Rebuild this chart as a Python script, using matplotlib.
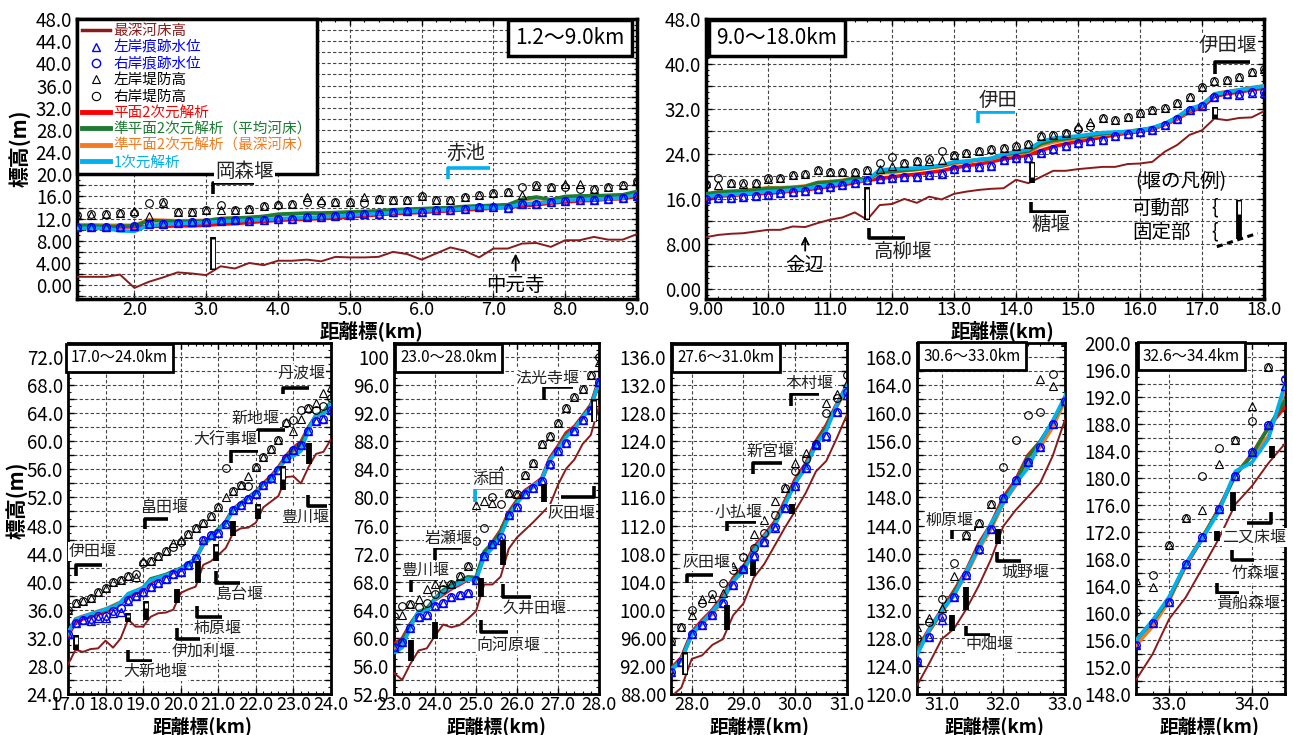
import numpy as np
import matplotlib
matplotlib.use("Agg")
import matplotlib.pyplot as plt
from matplotlib.lines import Line2D
from matplotlib.ticker import MultipleLocator, FuncFormatter

plt.rcParams['font.family'] = ['Noto Sans CJK JP', 'DejaVu Sans']
plt.rcParams['axes.unicode_minus'] = False

nan = np.nan

# 距離標 0.2km 間隔 (1.2km ～ 34.4km)
km = np.round(np.arange(12, 345, 2) / 10.0, 1)

# 最深河床高
bed = [
    1.5, 1.5, 1.5, 1.9, -0.5, 0.6, 1.4, 2.3, 2.1, 1.8,
    3.4, 3.0, 4.0, 3.6, 4.4, 4.4, 4.6, 4.3, 5.1, 5.0,
    5.0, 5.1, 6.0, 5.6, 4.6, 5.7, 6.8, 6.2, 5.0, 6.6,
    6.6, 7.5, 7.6, 6.9, 8.1, 8.1, 8.7, 8.2, 8.2, 9.2,
    9.6, 9.8, 9.9, 10.2, 10.5, 10.5, 11.1, 11.0, 11.7, 12.3,
    12.7, 13.6, 12.3, 14.9, 15.1, 16.0, 15.3, 16.4, 15.9, 16.9,
    17.3, 17.6, 17.8, 17.9, 19.4, 18.8, 19.9, 21.0, 21.0, 21.3,
    21.5, 21.7, 21.7, 22.2, 22.3, 22.6, 24.4, 25.6, 27.4, 28.2,
    30.3, 30.0, 30.4, 30.5, 31.6, 30.6, 31.9, 34.6, 33.6, 33.6,
    35.0, 35.5, 35.6, 36.0, 38.4, 38.9, 39.3, 42.4, 42.9, 43.8,
    44.8, 47.0, 47.6, 47.7, 48.4, 50.6, 51.4, 52.2, 54.9, 55.0,
    54.0, 56.3, 58.2, 58.5, 60.3, 61.9, 61.5, 61.8, 62.7, 63.8,
    67.6, 67.6, 68.7, 72.7, 74.3, 75.4, 76.5, 77.7, 78.9, 81.8,
    84.1, 85.4, 87.6, 88.9, 93.0, 93.5, 95.0, 95.8, 99.2, 100.9,
    104.6, 106.5, 109.1, 111.7, 114.1, 116.6, 119.7, 121.2, 124.4, 127.8,
    129.3, 132.1, 135.4, 139.2, 143.9, 146.2, 148.1, 150.1, 153.9, 159.1,
    162.3, 166.6, 171.0, 176.1, 178.8, 182.2, 185.1,
]

# 右岸痕跡水位
trace_r = [
    10.4, 10.4, 10.5, 10.5, 10.6, 11.0, 11.1, 11.2, 11.3, 11.3,
    11.6, 11.7, 11.5, 11.7, 12.0, 12.0, 12.2, 12.3, 12.4, 12.6,
    12.9, 12.9, 13.2, 13.4, 13.2, 13.5, 13.6, 13.8, 14.1, 14.1,
    14.0, 14.6, 14.6, 15.0, 15.1, 15.3, 15.4, 15.6, 15.7, 16.0,
    16.2, 16.2, 16.3, 16.5, 16.7, 17.0, 17.3, 17.4, 17.7, 18.1,
    18.4, 18.8, 19.4, 19.6, 19.8, 19.9, 19.9, 20.2, 20.5, 21.3,
    21.7, 21.7, 21.8, 23.0, 23.2, 23.2, 24.1, 24.8, 25.4, 25.9,
    26.3, 26.5, 27.2, 27.6, 27.9, 28.3, 29.1, 30.3, 31.8, 32.5,
    34.1, 34.6, 34.7, 35.1, 35.1, 35.8, 36.3, 37.4, 37.9, 38.6,
    39.2, 39.8, 40.4, 41.1, 41.4, 42.4, 43.4, 45.9, 46.7, 47.0,
    48.2, 50.2, 50.9, 51.8, 52.5, 53.8, 54.7, 55.9, 57.6, 58.7,
    59.4, 61.4, 62.9, 63.2, 64.5, 65.0, 65.8, 66.1, 66.4, 68.2,
    71.7, 73.4, 74.3, 77.5, 78.7, 80.5, 81.3, 82.3, 84.7, 86.6,
    87.8, 89.4, 91.1, 92.5, 96.5, 97.8, 99.3, 101.0, 103.5, 105.8,
    107.6, 109.7, 111.8, 114.5, 117.6, 120.2, 123.5, 124.7, 128.1, 131.0,
    133.8, 136.9, 140.6, 143.5, 147.9, 150.5, 153.1, 155.2, 158.5, 161.7,
    167.3, 171.2, 175.4, 180.3, 183.8, 187.8, 194.7,
]

# 左岸痕跡水位
trace_l = [
    10.4, 10.4, 10.5, 10.5, 10.6, 11.0, 11.1, 11.2, 11.3, 11.3,
    11.6, 11.7, 11.5, 11.7, 12.0, 12.0, 12.2, 12.3, 12.4, 12.6,
    12.9, 12.9, 13.2, 13.4, 13.2, 13.5, 13.6, 13.8, 14.1, 14.1,
    14.0, 14.6, 14.6, 15.0, 15.1, 15.3, 15.4, 15.6, 15.7, 16.0,
    16.2, 16.2, 16.3, 16.5, 16.7, 17.0, 17.3, 17.4, 17.7, 18.1,
    18.4, 18.8, 19.4, 19.6, 19.8, 19.9, 19.9, 20.2, 20.5, 21.3,
    21.7, 21.7, 21.8, 23.0, 23.2, 23.2, 24.1, 24.8, 25.4, 25.9,
    26.3, 26.5, 27.2, 27.6, 27.9, 28.3, 29.1, 30.3, 31.8, 32.5,
    34.1, 34.6, 34.4, 34.8, 34.8, 35.6, 35.7, 37.2, 37.9, 38.6,
    39.2, 39.8, 40.4, 41.1, 41.4, 42.4, 43.4, 45.9, 46.7, 47.0,
    48.2, 50.2, 50.9, 51.8, 52.5, 53.8, 54.7, 55.9, 57.6, 58.7,
    59.4, 61.4, 62.9, 63.2, 64.5, 65.0, 65.8, 66.1, 66.4, 68.2,
    71.7, 73.4, 74.0, 77.5, 78.7, 80.5, 81.3, 82.3, 84.7, 86.6,
    87.8, 89.4, 91.1, 92.5, 96.5, 97.8, 99.3, 101.0, 103.5, 105.8,
    107.6, 109.7, 111.7, 114.5, 117.6, 120.2, 123.5, 124.7, 128.1, 130.6,
    133.8, 136.9, 140.6, 143.5, 147.9, 150.5, 153.1, 155.2, 158.5, 161.7,
    167.3, 171.2, 175.4, 180.3, 183.8, 187.8, 193.7,
]

# 右岸堤防高
levee_r = [
    12.6, 12.9, 12.8, 13.1, 13.1, 14.8, 15.0, 13.2, 13.2, 13.5,
    14.4, 13.5, 13.7, 14.2, 14.4, 14.6, 15.0, 14.8, 15.0, 15.0,
    14.8, 15.6, 15.4, 15.4, 16.0, 15.4, 15.4, 15.9, 16.2, 16.6,
    16.8, 17.7, 18.0, 17.7, 17.7, 17.4, 17.4, 17.7, 18.0, 18.7,
    19.8, 18.9, 18.9, 18.9, 19.8, 19.8, 20.2, 20.4, 21.1, 20.7,
    20.8, 20.8, 21.1, 22.3, 23.5, 22.4, 22.7, 23.1, 24.6, 23.8,
    24.1, 24.6, 24.8, 25.1, 25.5, 25.7, 27.2, 27.4, 27.8, 28.5,
    29.0, 30.4, 30.1, 30.6, 31.2, 31.8, 32.2, 33.1, 34.2, 35.9,
    36.9, 37.2, 37.7, 38.6, 39.1, 40.0, 40.3, 40.8, 41.1, 42.7,
    43.0, 43.6, 44.3, 45.0, 45.6, 46.8, 47.7, 48.4, 49.4, 50.7,
    56.2, 52.9, 53.8, 53.6, 56.3, 57.8, 58.9, 60.2, 62.6, 63.1,
    64.5, 64.8, 64.4, 65.0, 66.2, 67.0, 67.6, 68.8, 70.3, 73.8,
    75.6, 80.1, 79.0, 80.6, 80.5, 83.2, 84.9, 87.6, 88.8, 90.6,
    92.7, 94.3, 95.5, 97.5, 100.0, 100.9, 102.3, 103.8, 105.6, 107.5,
    108.8, 110.9, 113.5, 117.4, 119.7, 121.5, 123.6, 128.0, 130.2, 133.5,
    138.7, 142.6, 144.4, 147.1, 152.3, 156.2, 159.8, 160.1, 165.6, 170.1,
    174.1, 180.3, 184.5, 185.7, 188.5, 196.4, nan,
]

# 左岸堤防高
levee_l = [
    12.6, 12.6, 12.8, 13.1, 13.3, 12.5, 14.9, 13.2, 13.2, 13.5,
    13.5, 13.5, 13.7, 14.2, 14.6, 14.6, 15.9, 15.3, 15.0, 15.0,
    15.9, 15.6, 15.4, 15.4, 16.0, 15.4, 15.4, 15.9, 16.2, 16.6,
    16.8, 16.2, 17.9, 17.7, 18.2, 18.3, 17.4, 17.7, 18.0, 18.9,
    18.5, 18.9, 18.6, 18.9, 19.6, 19.8, 20.2, 20.4, 21.1, 20.7,
    20.8, 20.8, 21.1, 21.4, 21.9, 22.4, 22.7, 22.7, 23.0, 23.8,
    24.1, 24.6, 24.8, 25.1, 25.5, 25.7, 27.2, 27.4, 27.8, 28.9,
    29.6, 30.4, 30.1, 30.6, 31.2, 31.8, 32.2, 33.1, 34.2, 35.9,
    36.9, 37.2, 37.7, 38.6, 39.1, 40.0, 40.3, 40.8, 40.6, 42.9,
    43.0, 43.6, 44.3, 45.5, 46.0, 46.8, 47.7, 48.4, 49.4, 50.7,
    52.0, 52.9, 53.8, 55.1, 56.3, 57.8, 58.9, 60.2, 62.8, 61.5,
    63.2, 64.8, 65.5, 66.9, 67.7, 68.0, 67.6, 68.8, 70.3, 78.9,
    79.5, 79.2, 83.9, 80.6, 80.5, 83.2, 84.9, 87.6, 88.8, 90.6,
    92.7, 94.3, 95.5, 97.5, 99.3, 101.5, 101.7, 102.4, 106.2, 106.0,
    110.8, 112.8, 115.5, 117.4, 120.9, 122.4, 123.6, 129.5, 130.8, 132.3,
    136.8, 142.6, 144.4, 147.1, nan, nan, nan, 164.9, 163.9, 170.1,
    174.1, 175.3, 182.1, 185.7, 190.6, 196.4, nan,
]

# 平面2次元解析
plane2d = [
    10.4, 10.4, 10.5, 10.5, 10.5, 10.6, 10.6, 10.7, 10.7, 10.8,
    11.0, 11.1, 11.3, 11.5, 11.7, 11.8, 11.9, 12.0, 12.1, 12.3,
    12.5, 12.7, 12.9, 13.0, 13.1, 13.3, 13.4, 13.6, 13.7, 13.9,
    14.0, 14.3, 14.5, 14.8, 15.0, 15.2, 15.3, 15.5, 15.6, 16.0,
    16.5, 16.6, 16.8, 16.9, 17.0, 17.2, 17.4, 17.6, 17.9, 18.2,
    18.5, 18.9, 19.3, 19.6, 19.9, 20.2, 20.4, 20.7, 21.0, 21.5,
    21.9, 22.2, 22.6, 23.1, 23.4, 23.8, 24.6, 25.3, 25.8, 26.2,
    26.6, 27.0, 27.4, 27.7, 28.0, 28.4, 29.2, 30.2, 31.5, 32.3,
    34.2, 34.7, 35.0, 35.4, 35.7, 36.2, 36.8, 37.8, 38.4, 38.9,
    39.9, 40.4, 40.8, 41.3, 41.7, 42.5, 43.3, 45.5, 46.5, 47.3,
    48.6, 50.4, 51.2, 52.0, 52.8, 54.0, 55.0, 56.3, 57.9, 59.1,
    59.9, 62.0, 63.6, 64.0, 65.4, 66.2, 67.0, 67.6, 68.3, 68.3,
    71.8, 73.6, 75.3, 77.9, 79.6, 81.0, 81.8, 82.7, 85.6, 87.3,
    89.2, 90.1, 91.6, 93.2, 96.8, 98.5, 100.0, 101.9, 104.5, 106.1,
    108.9, 110.6, 112.5, 115.5, 118.6, 120.8, 124.0, 126.3, 129.3, 132.0,
    134.7, 137.6, 141.4, 144.2, 148.0, 150.5, 154.0, 156.0, 158.7, 162.0,
    167.0, 171.0, 175.5, 180.5, 183.5, 187.5, 190.6,
]

# 準平面2次元解析(平均河床)
quasi_avg = [
    10.7, 10.7, 10.6, 10.6, 10.7, 11.6, 11.6, 11.5, 11.5, 11.6,
    12.0, 12.1, 12.2, 12.4, 12.8, 12.9, 13.0, 13.0, 13.1, 13.2,
    13.3, 13.4, 13.6, 13.7, 13.8, 13.9, 14.0, 14.2, 14.3, 14.4,
    14.5, 15.5, 15.9, 15.4, 16.0, 16.1, 16.1, 16.2, 16.3, 16.9,
    17.2, 17.3, 17.4, 17.6, 17.9, 17.9, 18.0, 18.2, 18.9, 19.0,
    19.2, 19.7, 19.4, 20.8, 20.9, 21.1, 21.3, 21.6, 21.9, 22.5,
    22.7, 23.0, 23.2, 23.9, 24.2, 24.5, 25.8, 26.4, 26.7, 27.0,
    27.3, 27.6, 27.8, 28.0, 28.3, 28.6, 29.4, 30.5, 31.8, 32.7,
    34.6, 35.0, 35.3, 35.7, 36.0, 36.5, 37.0, 38.1, 38.6, 39.1,
    40.4, 40.7, 41.0, 41.5, 41.9, 42.6, 43.3, 45.3, 46.4, 47.5,
    48.5, 50.3, 51.1, 52.0, 52.8, 53.9, 54.8, 56.2, 57.6, 58.9,
    59.6, 61.9, 63.7, 64.2, 65.6, 66.8, 67.5, 68.1, 68.7, 68.6,
    72.3, 73.5, 75.1, 77.7, 79.4, 80.8, 81.7, 82.5, 85.4, 87.0,
    88.9, 89.9, 91.5, 93.0, 96.6, 98.3, 99.7, 101.6, 104.2, 105.8,
    108.6, 110.3, 112.2, 115.2, 118.3, 120.4, 123.7, 126.0, 129.1, 131.8,
    134.5, 137.3, 141.1, 143.9, 147.7, 150.2, 153.8, 156.0, 158.8, 162.1,
    167.2, 171.1, 175.3, 180.4, 183.4, 187.5, 191.5,
]

# 準平面2次元解析(最深河床)
quasi_deep = [
    10.9, 10.9, 10.8, 10.8, 10.8, 11.8, 11.7, 11.6, 11.6, 11.7,
    12.0, 12.1, 12.2, 12.4, 12.7, 12.8, 12.9, 12.9, 13.0, 13.1,
    13.2, 13.3, 13.5, 13.6, 13.7, 13.8, 13.9, 14.1, 14.2, 14.3,
    14.4, 15.3, 15.7, 15.3, 15.9, 16.0, 16.0, 16.1, 16.2, 16.8,
    17.3, 17.4, 17.5, 17.7, 18.0, 18.0, 18.1, 18.3, 18.9, 19.1,
    19.3, 19.8, 19.3, 20.6, 20.7, 21.0, 21.2, 21.5, 21.8, 22.3,
    22.6, 22.9, 23.1, 23.7, 24.0, 24.3, 25.5, 26.1, 26.5, 26.8,
    27.1, 27.4, 27.7, 27.9, 28.2, 28.5, 29.3, 30.4, 31.7, 32.6,
    34.7, 35.1, 35.4, 35.8, 36.1, 36.6, 37.1, 38.2, 38.7, 39.2,
    40.3, 40.6, 41.0, 41.4, 41.8, 42.5, 43.2, 45.2, 46.3, 47.3,
    48.4, 50.2, 51.0, 51.8, 52.6, 53.8, 54.6, 56.0, 57.5, 58.6,
    59.3, 61.7, 63.5, 64.0, 65.4, 66.6, 67.3, 67.9, 68.6, 68.4,
    72.0, 73.3, 75.0, 77.5, 79.3, 80.6, 81.5, 82.4, 85.2, 86.9,
    88.7, 89.7, 91.3, 92.8, 96.4, 98.0, 99.4, 101.3, 104.0, 105.6,
    108.3, 110.0, 112.0, 115.0, 118.1, 120.2, 123.5, 125.8, 128.9, 131.6,
    134.2, 137.0, 140.6, 143.5, 147.2, 149.7, 153.0, 155.2, 158.0, 161.8,
    167.2, 171.3, 175.2, 180.6, 183.3, 186.2, 193.0,
]

# 1次元解析
one_d = [
    10.2, 10.3, 10.2, 9.8, 9.7, 10.8, 10.9, 11.1, 11.2, 11.3,
    11.5, 11.6, 11.7, 11.8, 12.0, 12.1, 12.2, 12.3, 12.4, 12.6,
    12.8, 12.9, 13.1, 13.3, 13.4, 13.5, 13.6, 13.8, 14.0, 14.0,
    14.0, 14.7, 14.8, 15.0, 15.3, 15.4, 15.5, 15.6, 15.7, 16.4,
    16.7, 16.8, 16.9, 17.1, 17.3, 17.4, 17.6, 17.8, 18.2, 18.5,
    18.8, 19.2, 19.3, 21.2, 21.3, 21.4, 21.5, 21.7, 22.0, 22.6,
    22.7, 23.0, 23.2, 24.0, 24.4, 24.8, 26.2, 26.8, 27.0, 27.2,
    27.5, 27.8, 27.9, 28.0, 28.2, 28.7, 29.4, 30.6, 32.1, 32.7,
    34.6, 35.0, 35.4, 35.7, 36.1, 36.4, 37.0, 38.3, 38.7, 39.1,
    40.2, 40.6, 40.9, 41.4, 41.8, 42.3, 43.4, 45.3, 46.2, 47.3,
    48.3, 50.4, 51.0, 51.9, 52.6, 53.9, 54.5, 56.1, 57.4, 57.9,
    58.6, 61.6, 63.8, 63.8, 65.5, 66.5, 67.2, 67.8, 68.4, 68.2,
    71.5, 72.8, 74.5, 77.3, 79.2, 80.6, 81.6, 82.6, 85.3, 86.8,
    88.6, 89.8, 91.4, 92.8, 96.5, 98.2, 99.8, 101.5, 104.1, 105.5,
    108.4, 110.4, 112.0, 115.0, 118.0, 120.3, 123.5, 125.5, 129.2, 131.9,
    134.0, 137.5, 140.8, 144.3, 147.2, 150.0, 152.2, 155.9, 158.9, 162.4,
    167.3, 171.0, 175.0, 181.0, 182.3, 185.8, 193.9,
]

# 堰 (位置, 基部, 固定部天端, 可動部天端)
weir_km = [3.1, 11.6, 14.25, 17.21, 18.6, 19.08, 19.9, 20.47, 20.94, 21.38,
           22.07, 22.71, 23.42, 24.01, 25.13, 25.66, 26.67, 27.88, 28.68,
           29.18, 29.93, 31.17, 31.4, 31.91, 33.58, 33.77, 34.24]
weir_base = [2.8, 12.3, 18.8, 30.3, 34.3, 34.6, 36.9, 39.8, 42.9, 46.5,
             48.9, 53.0, 56.7, 59.9, 65.8, 70.4, 79.4, 90.7, 97.1,
             104.8, 113.6, 129.0, 132.0, 141.3, 170.6, 175.1, 182.9]
weir_fixed = [2.8, 12.3, 19.7, 30.9, 34.7, 36.0, 38.9, 43.0, 44.1, 48.6,
              50.3, 54.4, 59.7, 62.3, 68.5, 73.9, 81.9, 90.7, 100.7,
              107.0, 115.0, 131.2, 135.3, 143.5, 172.2, 177.9, 184.7]
weir_gate = [8.6, 18.1, 22.6, 32.4, 35.5, 37.2, 38.9, 43.0, 45.3, 48.6,
             51.1, 56.5, 59.7, 62.3, 68.5, 73.9, 81.9, 94.0, 100.7,
             107.0, 115.0, 131.2, 135.3, 143.5, 172.2, 177.9, 184.7]

# 堰名ラベル (パネル, 名称, 文字位置x, y, 引出線x, 引出線y, 色)
C_1D = '#00B0F0'
weir_labels = [
    (0, '岡森堰', 3.53, 20.5, (3.1, 3.1, 3.67), (16.5, 18.4, 18.4), 'k'),
    (0, '赤池', 6.62, 23.7, (6.37, 6.37, 6.95), (19.2, 21.2, 21.2), C_1D),
    (1, '高柳堰', 12.17, 6.6, (11.63, 11.63, 12.21), (10.8, 9.1, 9.1), 'k'),
    (1, '伊田', 13.71, 33.6, (13.39, 13.39, 13.98), (29.5, 31.5, 31.5), C_1D),
    (1, '糖堰', 14.56, 11.5, (14.24, 14.24, 14.81), (15.5, 13.7, 13.7), 'k'),
    (1, '伊田堰', 17.42, 43.3, (17.21, 17.21, 17.77), (38.2, 40.4, 40.4), 'k'),
    (2, '伊田堰', 17.66, 44.3, (17.21, 17.21, 17.9), (40.8, 42.4, 42.4), 'k'),
    (2, '大新地堰', 19.32, 27.2, (18.59, 18.59, 19.23), (30.3, 28.7, 28.7), 'k'),
    (2, '伊加利堰', 20.6, 30.1, (19.89, 19.89, 20.51), (33.4, 31.8, 31.8), 'k'),
    (2, '柿原堰', 20.98, 33.4, (20.43, 20.43, 21.09), (36.6, 34.9, 34.9), 'k'),
    (2, '島台堰', 21.56, 38.2, (20.94, 20.94, 21.58), (41.5, 39.8, 39.8), 'k'),
    (2, '畠田堰', 19.56, 50.5, (19.05, 19.05, 19.67), (47.5, 49.0, 49.0), 'k'),
    (2, '豊川堰', 23.31, 49.2, (23.4, 23.4, 23.89), (52.4, 50.8, 50.8), 'k'),
    (2, '大行事堰', 21.18, 60.1, (21.34, 21.34, 22.07), (56.9, 58.6, 58.6), 'k'),
    (2, '新地堰', 21.98, 63.2, (22.07, 22.07, 22.78), (59.9, 61.6, 61.6), 'k'),
    (2, '丹波堰', 23.22, 69.7, (22.71, 22.71, 23.42), (66.7, 67.6, 67.6), 'k'),
    (3, '豊川堰', 23.77, 69.6, (23.41, 23.41, 24.07), (66.6, 68.4, 68.4), 'k'),
    (3, '岩瀬堰', 24.33, 74.1, (23.99, 23.99, 24.67), (71.1, 72.8, 72.8), 'k'),
    (3, '向河原堰', 25.8, 58.9, (25.11, 25.11, 25.78), (62.6, 60.8, 60.8), 'k'),
    (3, '久井田堰', 26.43, 64.2, (25.66, 25.66, 26.35), (67.7, 65.8, 65.8), 'k'),
    (3, '添田', 25.31, 82.5, (24.97, 24.97, 25.66), (79.4, 81.3, 81.3), C_1D),
    (3, '法光寺堰', 26.73, 97.0, (26.67, 26.67, 27.37), (93.9, 95.7, 95.7), 'k'),
    (3, '灰田堰', 27.33, 77.7, (27.87, 27.87, 27.08), (81.7, 80.1, 80.1), 'k'),
    (4, '灰田堰', 28.29, 106.8, (27.9, 27.9, 28.42), (103.8, 105.0, 105.0), 'k'),
    (4, '小払堰', 28.9, 113.9, (28.68, 28.68, 29.24), (111.2, 112.5, 112.5), 'k'),
    (4, '新宮堰', 29.52, 122.6, (29.18, 29.18, 29.74), (119.4, 120.9, 120.9), 'k'),
    (4, '本村堰', 30.28, 132.2, (29.92, 29.92, 30.46), (129.0, 130.7, 130.7), 'k'),
    (5, '柳原堰', 31.13, 144.7, (31.17, 31.17, 31.56), (142.1, 143.5, 143.5), 'k'),
    (5, '中畑堰', 31.78, 127.0, (31.39, 31.39, 31.78), (129.7, 128.4, 128.4), 'k'),
    (5, '城野堰', 32.36, 137.4, (31.9, 31.9, 32.29), (140.2, 138.9, 138.9), 'k'),
    (6, '二又床堰', 34.03, 171.2, (34.23, 34.23, 33.94), (174.9, 173.4, 173.4), 'k'),
    (6, '竹森堰', 34.05, 165.8, (33.76, 33.76, 34.03), (169.3, 167.8, 167.8), 'k'),
    (6, '貴船森堰', 33.96, 161.4, (33.58, 33.58, 33.84), (164.5, 163.0, 163.0), 'k'),
]

C_BED = '#8B1A1A'
C_2D = '#FF0000'
C_AVG = '#1E7B34'
C_DEEP = '#F47B20'
C_TRACE = '#0000FF'

W, H = 1293, 735


def rect(x0, x1, y0, y1):
    return [x0 / W, 1 - y1 / H, (x1 - x0) / W, (y1 - y0) / H]


def ylab_fmt(step, style):
    def f(v, pos):
        if abs(v / step - round(v / step)) > 1e-6:
            return ''
        if abs(v) < 1e-9:
            v = 0.0
        if style == 'sig':
            return f'{v:.2f}' if abs(v) < 10 else f'{v:.1f}'
        if style == 'p2':
            return f'{v:.0f}' if v >= 100 else f'{v:.1f}'
        if style == 'p3':
            return f'{v:.2f}' if v < 100 else f'{v:.1f}'
        return f'{v:.1f}'
    return FuncFormatter(f)


def xlab_fmt(style):
    def f(v, pos):
        if style == 'sig' and 9 <= v < 10:
            return f'{v:.2f}'
        return f'{v:.1f}'
    return FuncFormatter(f)


panels = [
    dict(rect=rect(77, 637, 19, 299), xlim=(1.2, 9.0), ylim=(-2.5, 48.0),
         grid=2, lab=4, ystyle='sig', xstyle='tl', title='1.2〜9.0km',
         tpos=(0.88, 0.932), tfs=15, big=True),
    dict(rect=rect(706, 1264, 19, 299), xlim=(9.0, 18.0), ylim=(-1.8, 48.0),
         grid=4, lab=8, ystyle='sig', xstyle='sig', title='9.0〜18.0km',
         tpos=(0.127, 0.932), tfs=15, big=True),
    dict(rect=rect(68, 331, 343, 694), xlim=(17.0, 24.0), ylim=(24, 74),
         grid=2, lab=4, ystyle='f1', xstyle='f1', title='17.0〜24.0km',
         tpos=(0.196, 0.958), tfs=11, big=False),
    dict(rect=rect(394, 599, 343, 694), xlim=(23.0, 28.0), ylim=(52, 102),
         grid=2, lab=4, ystyle='p2', xstyle='f1', title='23.0〜28.0km',
         tpos=(0.266, 0.958), tfs=11, big=False),
    dict(rect=rect(671, 847, 343, 694), xlim=(27.6, 31.0), ylim=(88, 138),
         grid=2, lab=4, ystyle='p3', xstyle='f1', title='27.6〜31.0km',
         tpos=(0.312, 0.958), tfs=11, big=False),
    dict(rect=rect(917, 1065, 343, 694), xlim=(30.6, 33.0), ylim=(120, 170),
         grid=2, lab=4, ystyle='f1', xstyle='f1', title='30.6〜33.0km',
         tpos=(0.372, 0.962), tfs=11, big=False),
    dict(rect=rect(1136, 1285, 343, 694), xlim=(32.6, 34.4), ylim=(148, 200),
         grid=2, lab=4, ystyle='f1', xstyle='f1', title='32.6〜34.4km',
         tpos=(0.372, 0.962), tfs=11, big=False),
]


def draw_weir(ax, x, base, fixed, gate):
    y0, y1 = ax.get_ylim()
    eps = 0.005 * (y1 - y0)
    ax.vlines(x, base, gate, colors='k', lw=4.2, zorder=6)
    if gate > fixed:
        ax.vlines(x, fixed + eps, gate - eps, colors='white', lw=2.2, zorder=6)


fig = plt.figure(figsize=(12.93, 7.35), dpi=100)
axes = []
for i, p in enumerate(panels):
    ax = fig.add_axes(p['rect'])
    axes.append(ax)
    ax.set_xlim(*p['xlim'])
    ax.set_ylim(*p['ylim'])

    ax.plot(km, bed, color=C_BED, lw=1.4, zorder=3)
    ax.plot(km, plane2d, color=C_2D, lw=2.6, zorder=3)
    ax.plot(km, quasi_deep, color=C_DEEP, lw=2.6, zorder=3)
    ax.plot(km, quasi_avg, color=C_AVG, lw=2.6, zorder=3)
    ax.plot(km, one_d, color=C_1D, lw=2.6, zorder=3)
    ms = 5.5
    ax.plot(km, levee_l, ls='none', marker='^', ms=ms, mfc='none', mec='k', mew=0.8, zorder=4)
    ax.plot(km, levee_r, ls='none', marker='o', ms=ms, mfc='none', mec='k', mew=0.8, zorder=4)
    ax.plot(km, trace_l, ls='none', marker='^', ms=ms, mfc='none', mec=C_TRACE, mew=1.0, zorder=5)
    ax.plot(km, trace_r, ls='none', marker='o', ms=ms, mfc='none', mec=C_TRACE, mew=1.0, zorder=5)

    for x, b, f, g in zip(weir_km, weir_base, weir_fixed, weir_gate):
        if p['xlim'][0] < x < p['xlim'][1]:
            draw_weir(ax, x, b, f, g)

    # 軸・目盛・グリッド
    ax.xaxis.set_major_locator(MultipleLocator(1.0))
    ax.xaxis.set_minor_locator(MultipleLocator(0.2))
    ax.yaxis.set_major_locator(MultipleLocator(p['grid']))
    ax.yaxis.set_minor_locator(MultipleLocator(1.0))
    ax.yaxis.set_major_formatter(ylab_fmt(p['lab'], p['ystyle']))
    ax.xaxis.set_major_formatter(xlab_fmt(p['xstyle']))
    ax.grid(True, which='major', ls=(0, (3, 2)), color='#444444', lw=0.8)
    ax.tick_params(which='both', direction='in', top=True, right=True, labelsize=13.5)
    ax.tick_params(which='major', length=4, width=1)
    ax.tick_params(axis='x', which='major', pad=1.5, labelsize=13)
    ax.tick_params(which='minor', length=2.5, width=0.8)
    for s in ax.spines.values():
        s.set_linewidth(2.5 if p['big'] else 2.0)

    ax.text(p['tpos'][0], p['tpos'][1], p['title'], transform=ax.transAxes,
            ha='center', va='center', fontsize=p['tfs'], zorder=10,
            bbox=dict(boxstyle='square,pad=0.35', fc='white', ec='black',
                      lw=2.5 if p['big'] else 2.0))

for pi, name, tx, ty, bx, by, col in weir_labels:
    ax = axes[pi]
    fs = 14 if pi < 2 else 11.5
    ax.plot(bx, by, color=col, lw=2.6, solid_capstyle='butt', zorder=7)
    ax.text(tx, ty, name, ha='center', va='center', fontsize=fs, color='#222222',
            zorder=12, bbox=dict(boxstyle='square,pad=0.05', fc='white', ec='none'))

# 地名の矢印
axes[0].annotate('', xy=(7.31, 6.2), xytext=(7.31, 2.1),
                 arrowprops=dict(arrowstyle='->', lw=1.3, color='k', mutation_scale=12), zorder=8)
axes[0].text(7.31, 0.0, '中元寺', ha='center', va='center', fontsize=14, zorder=8)
axes[1].annotate('', xy=(10.6, 9.9), xytext=(10.6, 6.3),
                 arrowprops=dict(arrowstyle='->', lw=1.3, color='k', mutation_scale=12), zorder=8)
axes[1].text(10.6, 4.2, '金辺', ha='center', va='center', fontsize=14, zorder=8)

# 堰の凡例
ax = axes[1]
ax.text(16.66, 19.0, '(堰の凡例)', ha='center', va='center', fontsize=14, zorder=8)
ax.text(16.34, 14.4, '可動部', ha='center', va='center', fontsize=14, zorder=8)
ax.text(16.34, 10.1, '固定部', ha='center', va='center', fontsize=14, zorder=8)
ax.text(17.2, 14.4, '{', ha='center', va='center', fontsize=14, zorder=8)
ax.text(17.2, 10.1, '{', ha='center', va='center', fontsize=14, zorder=8)
draw_weir(ax, 17.6, 8.8, 13.0, 15.8)
ax.plot([17.24, 17.9], [7.5, 9.9], color='k', lw=2.2, ls=(0, (2, 1.5)), zorder=7)

# 凡例
handles = [
    Line2D([], [], color=C_BED, lw=2.5),
    Line2D([], [], ls='none', marker='^', ms=6, mfc='none', mec=C_TRACE, mew=1.0),
    Line2D([], [], ls='none', marker='o', ms=6, mfc='none', mec=C_TRACE, mew=1.0),
    Line2D([], [], ls='none', marker='^', ms=6, mfc='none', mec='k', mew=0.8),
    Line2D([], [], ls='none', marker='o', ms=6, mfc='none', mec='k', mew=0.8),
    Line2D([], [], color=C_2D, lw=3.5),
    Line2D([], [], color=C_AVG, lw=3.5),
    Line2D([], [], color=C_DEEP, lw=3.5),
    Line2D([], [], color=C_1D, lw=3.5),
]
names = ['最深河床高', '左岸痕跡水位', '右岸痕跡水位', '左岸堤防高', '右岸堤防高',
         '平面2次元解析', '準平面2次元解析（平均河床）', '準平面2次元解析（最深河床）', '1次元解析']
colors = [C_BED, C_TRACE, C_TRACE, 'k', 'k', C_2D, C_AVG, C_DEEP, C_1D]
leg = axes[0].legend(handles, names, loc='upper left', bbox_to_anchor=(0, 1),
                     borderaxespad=0, fontsize=10.5, labelspacing=0.16,
                     handlelength=1.9, handletextpad=0.25, borderpad=0.35,
                     fancybox=False, framealpha=1, edgecolor='black')
leg.get_frame().set_linewidth(2.5)
leg.set_zorder(9)
for t, c in zip(leg.get_texts(), colors):
    t.set_color(c)

# 軸ラベル
fig.text(372 / W, 1 - 331 / H, '距離標(km)', ha='center', va='center', fontsize=14, fontweight='bold')
fig.text(1003 / W, 1 - 331 / H, '距離標(km)', ha='center', va='center', fontsize=14, fontweight='bold')
for cx in [203, 497, 760, 995, 1210]:
    fig.text(cx / W, 1 - 726 / H, '距離標(km)', ha='center', va='center', fontsize=13.5, fontweight='bold')
fig.text(20 / W, 1 - 148 / H, '標高(m)', ha='center', va='center', fontsize=15,
         fontweight='bold', rotation=90)
fig.text(17 / W, 1 - 500 / H, '標高(m)', ha='center', va='center', fontsize=15,
         fontweight='bold', rotation=90)

fig.savefig('out.png', dpi=100)
